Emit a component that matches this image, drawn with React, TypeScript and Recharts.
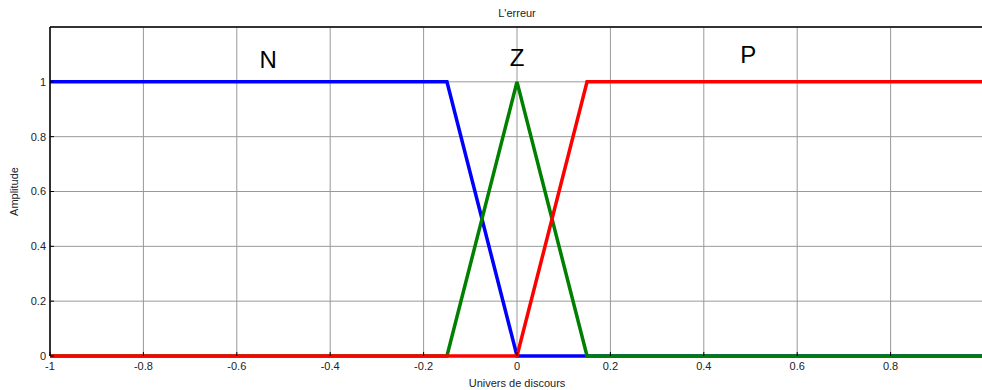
import { LineChart, Line, XAxis, YAxis, CartesianGrid, ReferenceDot } from 'recharts';

// membership functions (univers de discours -> amplitude)
const nX = [-1, -0.15, 0, 1];
const nY = [1, 1, 0, 0];
const zX = [-1, -0.15, 0, 0.15, 1];
const zY = [0, 0, 1, 0, 0];
const pX = [-1, 0, 0.15, 1];
const pY = [0, 0, 1, 1];

const xTicks = [-1, -0.8, -0.6, -0.4, -0.2, 0, 0.2, 0.4, 0.6, 0.8];
const yTicks = [0, 0.2, 0.4, 0.6, 0.8, 1];

const setNames = ['N', 'Z', 'P'];
const setLabelX = [-0.533, 0, 0.495];
const setLabelY = [1.08, 1.09, 1.1];

const toPoints = (xs: number[], ys: number[]) => xs.map((x, i) => ({ x, y: ys[i] }));

const series = [
  { name: 'N', data: toPoints(nX, nY), color: '#0000ff' },
  { name: 'Z', data: toPoints(zX, zY), color: '#008000' },
  { name: 'P', data: toPoints(pX, pY), color: '#ff0000' },
];

const font = '"Liberation Sans", Arial, sans-serif';
const tickStyle = { fontSize: 11, fill: '#222', fontFamily: font };

export default function App() {
  return (
    <div style={{ position: 'absolute', left: 0, top: 0, width: 982, height: 390, overflow: 'hidden', background: '#fff' }}>
      <LineChart width={990} height={390} margin={{ top: 0, right: 6, bottom: 0, left: 0 }}>
        <CartesianGrid stroke="#999" strokeWidth={1} />
        <XAxis
          xAxisId="top"
          orientation="top"
          type="number"
          dataKey="x"
          domain={[-1, 1]}
          ticks={xTicks}
          height={27}
          tickSize={-4}
          tickFormatter={() => ''}
          axisLine={{ stroke: '#000', strokeWidth: 1.5 }}
          tickLine={{ stroke: '#000' }}
          label={{ value: "L'erreur", position: 'insideTop', offset: 9, fontSize: 11, fill: '#222', fontFamily: font }}
        />
        <XAxis
          type="number"
          dataKey="x"
          domain={[-1, 1]}
          ticks={xTicks}
          height={34}
          tickSize={-4}
          tickMargin={10}
          tick={tickStyle}
          axisLine={false}
          tickLine={{ stroke: '#000' }}
          label={{ value: 'Univers de discours', position: 'insideBottom', offset: 3, fontSize: 11, fill: '#222', fontFamily: font }}
        />
        <YAxis
          type="number"
          domain={[0, 1.2]}
          ticks={yTicks}
          width={50}
          tickSize={-4}
          tickMargin={8}
          tick={tickStyle}
          axisLine={{ stroke: '#000', strokeWidth: 1.5 }}
          tickLine={{ stroke: '#000' }}
          label={{ value: 'Amplitude', angle: -90, position: 'insideLeft', offset: 14, fontSize: 11, fill: '#222', fontFamily: font, style: { textAnchor: 'middle' } }}
        />
        {series.map((s) => (
          <Line
            key={s.name}
            data={s.data}
            dataKey="y"
            type="linear"
            stroke={s.color}
            strokeWidth={3.5}
            dot={false}
            isAnimationActive={false}
          />
        ))}
        {setNames.map((name, i) => (
          <ReferenceDot
            key={name}
            x={setLabelX[i]}
            y={setLabelY[i]}
            r={0}
            fill="none"
            stroke="none"
            label={{ value: name, position: 'center', fontSize: 24, fill: '#000', fontFamily: font }}
          />
        ))}
      </LineChart>
    </div>
  );
}
